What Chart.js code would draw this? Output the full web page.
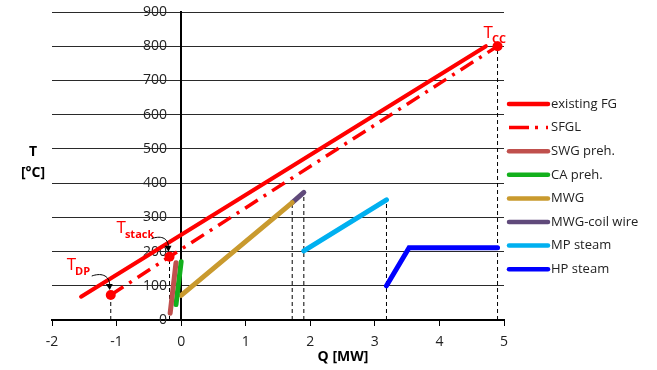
<!DOCTYPE html>
<html>
<head>
<meta charset="utf-8">
<script src="https://cdn.jsdelivr.net/npm/chart.js@4.4.0/dist/chart.umd.min.js"></script>
<style>
  html, body { margin: 0; padding: 0; background: #fff; }
  #wrap { width: 657px; height: 370px; position: relative; }
</style>
</head>
<body>
<div id="wrap"><canvas id="chart"></canvas></div>
<script>
// --- data (Q in MW, T in °C) ---
const existingFG = [{ x: -1.55, y: 68 }, { x: 4.72, y: 800 }];
const sfgl = [{ x: -1.09, y: 73 }, { x: -0.18, y: 185 }, { x: 4.9, y: 800 }];
const swgPreh = [{ x: -0.17, y: 20 }, { x: -0.08, y: 167 }];
const caPreh = [{ x: -0.08, y: 45 }, { x: 0, y: 170 }];
const mwg = [{ x: 0, y: 72 }, { x: 1.72, y: 343 }];
const mwgCoil = [{ x: 1.72, y: 343 }, { x: 1.9, y: 373 }];
const mpSteam = [{ x: 1.9, y: 202 }, { x: 3.18, y: 351 }];
const hpSteam = [{ x: 3.18, y: 100 }, { x: 3.53, y: 211 }, { x: 4.9, y: 211 }];

// marked temperatures and their labels
const markerPoints = [{ x: -1.09, y: 73 }, { x: -0.18, y: 185 }, { x: 4.9, y: 800 }];
const markerNames = [['T', 'DP'], ['T', 'stack'], ['T', 'CC']];

// dashed drop lines: x position and top temperature
const dropX = [-1.09, -0.18, 1.72, 1.9, 3.18, 4.9];
const dropTop = [73, 185, 343, 373, 351, 800];

// axes
const xMin = -2, xMax = 5, xStep = 1;
const yMin = 0, yMax = 900, yStep = 100;

const FONT = "'Open Sans', sans-serif";

function seg(label, data, color, width, dash) {
    return {
        label: label,
        data: data,
        borderColor: color,
        backgroundColor: color,
        borderWidth: width,
        borderDash: dash || [],
        borderCapStyle: dash ? 'butt' : 'round',
        pointRadius: 0,
        showLine: true,
        fill: false,
        tension: 0,
        inLegend: true
    };
}

const datasets = [
    {
        label: 'markers',
        data: markerPoints,
        showLine: false,
        pointRadius: 5,
        pointBackgroundColor: '#FF0000',
        pointBorderColor: '#FF0000',
        pointBorderWidth: 0
    },
    seg('existing FG', existingFG, '#FF0000', 4),
    seg('SFGL', sfgl, '#FF0000', 3.5, [15, 7, 3, 7]),
    seg('SWG preh.', swgPreh, '#C0504D', 5),
    seg('CA preh.', caPreh, '#12B01C', 5),
    seg('MWG', mwg, '#C99A2E', 5),
    seg('MWG-coil wire', mwgCoil, '#604A7B', 5),
    seg('MP steam', mpSteam, '#00B0F0', 5),
    seg('HP steam', hpSteam, '#0000FF', 5)
];
dropX.forEach((x, i) => {
    datasets.push({
        label: 'drop' + i,
        data: [{ x: x, y: 0 }, { x: x, y: dropTop[i] }],
        borderColor: '#000',
        borderWidth: 1,
        borderDash: [4, 3],
        pointRadius: 0,
        showLine: true,
        fill: false
    });
});

// legend drawn at the right of the plot
const legendPlugin = {
    id: 'sideLegend',
    afterDraw(chart) {
        const ctx = chart.ctx;
        const items = chart.data.datasets.filter(d => d.inLegend);
        let y = 104;
        ctx.save();
        items.forEach(d => {
            ctx.beginPath();
            ctx.strokeStyle = d.borderColor;
            ctx.lineWidth = d.borderDash.length ? 3.5 : 4.5;
            ctx.lineCap = d.borderDash.length ? 'butt' : 'round';
            ctx.setLineDash(d.borderDash.length ? [20, 6, 3, 8] : []);
            ctx.moveTo(509, y);
            ctx.lineTo(548, y);
            ctx.stroke();
            ctx.setLineDash([]);
            ctx.fillStyle = '#222';
            ctx.font = '13px ' + FONT;
            ctx.textBaseline = 'middle';
            ctx.textAlign = 'left';
            ctx.fillText(d.label, 551, y);
            y += 23.6;
        });
        ctx.restore();
    }
};

// axis titles and the marker annotations with their arrows
const notesPlugin = {
    id: 'notes',
    afterDraw(chart) {
        const ctx = chart.ctx;
        const xs = chart.scales.x, ys = chart.scales.y;
        ctx.save();
        ctx.fillStyle = '#000';
        ctx.font = 'bold 14px ' + FONT;
        ctx.textAlign = 'center';
        ctx.textBaseline = 'alphabetic';
        ctx.fillText('T', 33, 156);
        ctx.fillText('[°C]', 33, 177);
        ctx.fillText('Q [MW]', 343, 361);

        const offsets = [[-44, -25], [-53, -24], [-14, -8]];
        markerPoints.forEach((p, i) => {
            const px = xs.getPixelForValue(p.x), py = ys.getPixelForValue(p.y);
            const tx = px + offsets[i][0], ty = py + offsets[i][1];
            ctx.fillStyle = '#FF0000';
            ctx.textAlign = 'left';
            ctx.font = '17px ' + FONT;
            ctx.fillText(markerNames[i][0], tx, ty);
            const w = ctx.measureText(markerNames[i][0]).width;
            ctx.font = 'bold 11px ' + FONT;
            ctx.fillText(markerNames[i][1], tx + w - 1, ty + 5);
        });

        // curved arrows towards T_DP and T_stack
        [[0, -18, -14], [1, -17, -13]].forEach(a => {
            const p = markerPoints[a[0]];
            const ex = xs.getPixelForValue(p.x) - 1, ey = ys.getPixelForValue(p.y) - 5;
            const sx = ex + a[1], sy = ey + a[2];
            ctx.strokeStyle = '#000';
            ctx.lineWidth = 1;
            ctx.beginPath();
            ctx.moveTo(sx, sy);
            ctx.bezierCurveTo(sx + 8, sy - 3, ex, sy - 2, ex, ey - 4);
            ctx.stroke();
            ctx.fillStyle = '#000';
            ctx.beginPath();
            ctx.moveTo(ex - 4, ey - 6);
            ctx.lineTo(ex + 3, ey - 6);
            ctx.lineTo(ex, ey);
            ctx.closePath();
            ctx.fill();
        });
        ctx.restore();
    }
};

new Chart(document.getElementById('chart'), {
    type: 'scatter',
    data: { datasets: datasets },
    plugins: [legendPlugin, notesPlugin],
    options: {
        responsive: true,
        maintainAspectRatio: false,
        animation: false,
        layout: { padding: { left: 52, right: 153, top: 12, bottom: 0 } },
        plugins: {
            legend: { display: false },
            tooltip: { enabled: false }
        },
        scales: {
            x: {
                type: 'linear',
                position: 'bottom',
                min: xMin,
                max: xMax,
                ticks: {
                    stepSize: xStep,
                    color: '#222',
                    font: { family: FONT, size: 14 },
                    padding: 8,
                    maxRotation: 0
                },
                grid: {
                    drawOnChartArea: false,
                    drawTicks: true,
                    tickLength: 6,
                    color: '#000'
                },
                border: { display: true, color: '#000', width: 2 },
                afterFit(scale) { scale.height = 50; }
            },
            y: {
                type: 'linear',
                position: { x: 0 },
                min: yMin,
                max: yMax,
                ticks: { display: false, stepSize: yStep },
                grid: {
                    drawTicks: false,
                    color: '#2a2a2a',
                    lineWidth: 1
                },
                border: { display: true, color: '#000', width: 2 }
            },
            // tick labels, set a little to the left of the Q = 0 axis
            yLabels: {
                type: 'linear',
                axis: 'y',
                position: { x: -0.22 },
                min: yMin,
                max: yMax,
                ticks: {
                    stepSize: yStep,
                    color: '#222',
                    font: { family: FONT, size: 14 },
                    padding: 0
                },
                grid: { display: false, drawTicks: false },
                border: { display: false }
            }
        }
    }
});
</script>
</body>
</html>
